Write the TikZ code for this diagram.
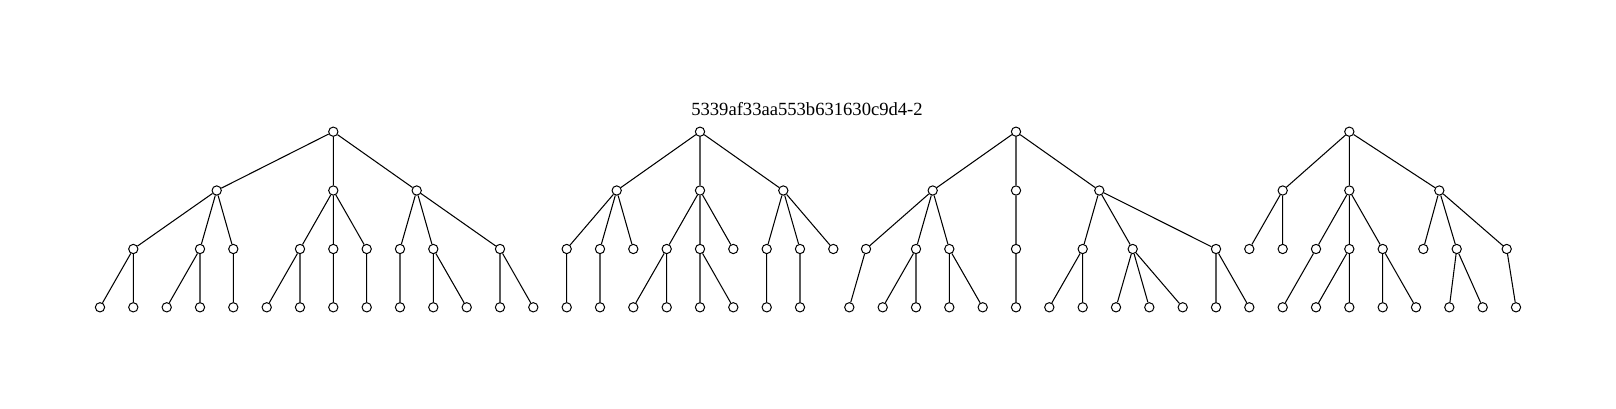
\documentclass[tikz,border=0pt]{standalone}
\usepackage{fontspec}
\setmainfont{Liberation Serif}
\begin{document}
\begin{tikzpicture}[x=1pt,y=-1pt,
  nd/.style={circle,draw,fill=white,inner sep=0pt,minimum size=9.3pt,line width=1pt},
  ed/.style={line width=1.05pt}]
\useasboundingbox (0,0) rectangle (1616,409);
\def\ya{131.7}\def\yb{190.5}\def\yc{249}\def\yd{307.3}
\node[font=\fontsize{18.6}{22}\selectfont,anchor=base] (title) at (807,115.7) {5339af33aa553b631630c9d4-2};
% ---------- tree 1
\node[nd] (t1) at (333.3,\ya) {};
\node[nd] (t1a) at (216.7,\yb) {};
\node[nd] (t1b) at (333.3,\yb) {};
\node[nd] (t1c) at (416.7,\yb) {};
\node[nd] (t1a1) at (133.3,\yc) {};
\node[nd] (t1a2) at (200,\yc) {};
\node[nd] (t1a3) at (233.3,\yc) {};
\node[nd] (t1b1) at (300,\yc) {};
\node[nd] (t1b2) at (333.3,\yc) {};
\node[nd] (t1b3) at (366.7,\yc) {};
\node[nd] (t1c1) at (400,\yc) {};
\node[nd] (t1c2) at (433.3,\yc) {};
\node[nd] (t1c3) at (500,\yc) {};
\node[nd] (t1l1) at (100,\yd) {};
\node[nd] (t1l2) at (133.3,\yd) {};
\node[nd] (t1l3) at (166.7,\yd) {};
\node[nd] (t1l4) at (200,\yd) {};
\node[nd] (t1l5) at (233.3,\yd) {};
\node[nd] (t1l6) at (266.7,\yd) {};
\node[nd] (t1l7) at (300,\yd) {};
\node[nd] (t1l8) at (333.3,\yd) {};
\node[nd] (t1l9) at (366.7,\yd) {};
\node[nd] (t1l10) at (400,\yd) {};
\node[nd] (t1l11) at (433.3,\yd) {};
\node[nd] (t1l12) at (466.7,\yd) {};
\node[nd] (t1l13) at (500,\yd) {};
\node[nd] (t1l14) at (533.3,\yd) {};
\draw[ed] (t1)--(t1a) (t1)--(t1b) (t1)--(t1c)
  (t1a)--(t1a1) (t1a)--(t1a2) (t1a)--(t1a3)
  (t1b)--(t1b1) (t1b)--(t1b2) (t1b)--(t1b3)
  (t1c)--(t1c1) (t1c)--(t1c2) (t1c)--(t1c3)
  (t1a1)--(t1l1) (t1a1)--(t1l2) (t1a2)--(t1l3) (t1a2)--(t1l4) (t1a3)--(t1l5)
  (t1b1)--(t1l6) (t1b1)--(t1l7) (t1b2)--(t1l8) (t1b3)--(t1l9)
  (t1c1)--(t1l10) (t1c2)--(t1l11) (t1c2)--(t1l12) (t1c3)--(t1l13) (t1c3)--(t1l14);
% ---------- tree 2
\node[nd] (t2) at (700,\ya) {};
\node[nd] (t2a) at (616.7,\yb) {};
\node[nd] (t2b) at (700,\yb) {};
\node[nd] (t2c) at (783.3,\yb) {};
\node[nd] (t2a1) at (566.7,\yc) {};
\node[nd] (t2a2) at (600,\yc) {};
\node[nd] (t2a3) at (633.3,\yc) {};
\node[nd] (t2b1) at (666.7,\yc) {};
\node[nd] (t2b2) at (700,\yc) {};
\node[nd] (t2b3) at (733.3,\yc) {};
\node[nd] (t2c1) at (766.7,\yc) {};
\node[nd] (t2c2) at (800,\yc) {};
\node[nd] (t2c3) at (833.3,\yc) {};
\node[nd] (t2l1) at (566.7,\yd) {};
\node[nd] (t2l2) at (600,\yd) {};
\node[nd] (t2l3) at (633.3,\yd) {};
\node[nd] (t2l4) at (666.7,\yd) {};
\node[nd] (t2l5) at (700,\yd) {};
\node[nd] (t2l6) at (733.3,\yd) {};
\node[nd] (t2l7) at (766.7,\yd) {};
\node[nd] (t2l8) at (800,\yd) {};
\draw[ed] (t2)--(t2a) (t2)--(t2b) (t2)--(t2c)
  (t2a)--(t2a1) (t2a)--(t2a2) (t2a)--(t2a3)
  (t2b)--(t2b1) (t2b)--(t2b2) (t2b)--(t2b3)
  (t2c)--(t2c1) (t2c)--(t2c2) (t2c)--(t2c3)
  (t2a1)--(t2l1) (t2a2)--(t2l2)
  (t2b1)--(t2l3) (t2b1)--(t2l4) (t2b2)--(t2l5) (t2b2)--(t2l6)
  (t2c1)--(t2l7) (t2c2)--(t2l8);
% ---------- tree 3
\node[nd] (t3) at (1016,\ya) {};
\node[nd] (t3a) at (932.7,\yb) {};
\node[nd] (t3b) at (1016,\yb) {};
\node[nd] (t3c) at (1099.3,\yb) {};
\node[nd] (t3a1) at (866,\yc) {};
\node[nd] (t3a2) at (916,\yc) {};
\node[nd] (t3a3) at (949.3,\yc) {};
\node[nd] (t3b1) at (1016,\yc) {};
\node[nd] (t3c1) at (1082.7,\yc) {};
\node[nd] (t3c2) at (1132.7,\yc) {};
\node[nd] (t3c3) at (1216,\yc) {};
\node[nd] (t3l1) at (849.3,\yd) {};
\node[nd] (t3l2) at (882.7,\yd) {};
\node[nd] (t3l3) at (916,\yd) {};
\node[nd] (t3l4) at (949.3,\yd) {};
\node[nd] (t3l5) at (982.7,\yd) {};
\node[nd] (t3l6) at (1016,\yd) {};
\node[nd] (t3l7) at (1049.3,\yd) {};
\node[nd] (t3l8) at (1082.7,\yd) {};
\node[nd] (t3l9) at (1116,\yd) {};
\node[nd] (t3l10) at (1149.3,\yd) {};
\node[nd] (t3l11) at (1182.7,\yd) {};
\node[nd] (t3l12) at (1216,\yd) {};
\node[nd] (t3l13) at (1249.3,\yd) {};
\draw[ed] (t3)--(t3a) (t3)--(t3b) (t3)--(t3c)
  (t3a)--(t3a1) (t3a)--(t3a2) (t3a)--(t3a3)
  (t3b)--(t3b1)
  (t3c)--(t3c1) (t3c)--(t3c2) (t3c)--(t3c3)
  (t3a1)--(t3l1) (t3a2)--(t3l2) (t3a2)--(t3l3) (t3a3)--(t3l4) (t3a3)--(t3l5)
  (t3b1)--(t3l6)
  (t3c1)--(t3l7) (t3c1)--(t3l8) (t3c2)--(t3l9) (t3c2)--(t3l10) (t3c2)--(t3l11)
  (t3c3)--(t3l12) (t3c3)--(t3l13);
% ---------- tree 4
\node[nd] (t4) at (1349.3,\ya) {};
\node[nd] (t4a) at (1282.7,\yb) {};
\node[nd] (t4b) at (1349.3,\yb) {};
\node[nd] (t4c) at (1439.3,\yb) {};
\node[nd] (t4a1) at (1249.3,\yc) {};
\node[nd] (t4a2) at (1282.7,\yc) {};
\node[nd] (t4b1) at (1316,\yc) {};
\node[nd] (t4b2) at (1349.3,\yc) {};
\node[nd] (t4b3) at (1382.7,\yc) {};
\node[nd] (t4c1) at (1423.3,\yc) {};
\node[nd] (t4c2) at (1456.7,\yc) {};
\node[nd] (t4c3) at (1506.7,\yc) {};
\node[nd] (t4l1) at (1282.7,\yd) {};
\node[nd] (t4l2) at (1316,\yd) {};
\node[nd] (t4l3) at (1349.3,\yd) {};
\node[nd] (t4l4) at (1382.7,\yd) {};
\node[nd] (t4l5) at (1416,\yd) {};
\node[nd] (t4l6) at (1449.3,\yd) {};
\node[nd] (t4l7) at (1482.7,\yd) {};
\node[nd] (t4l8) at (1516,\yd) {};
\draw[ed] (t4)--(t4a) (t4)--(t4b) (t4)--(t4c)
  (t4a)--(t4a1) (t4a)--(t4a2)
  (t4b)--(t4b1) (t4b)--(t4b2) (t4b)--(t4b3)
  (t4c)--(t4c1) (t4c)--(t4c2) (t4c)--(t4c3)
  (t4b1)--(t4l1) (t4b2)--(t4l2) (t4b2)--(t4l3) (t4b3)--(t4l4) (t4b3)--(t4l5)
  (t4c2)--(t4l6) (t4c2)--(t4l7) (t4c3)--(t4l8);
\end{tikzpicture}
\end{document}
